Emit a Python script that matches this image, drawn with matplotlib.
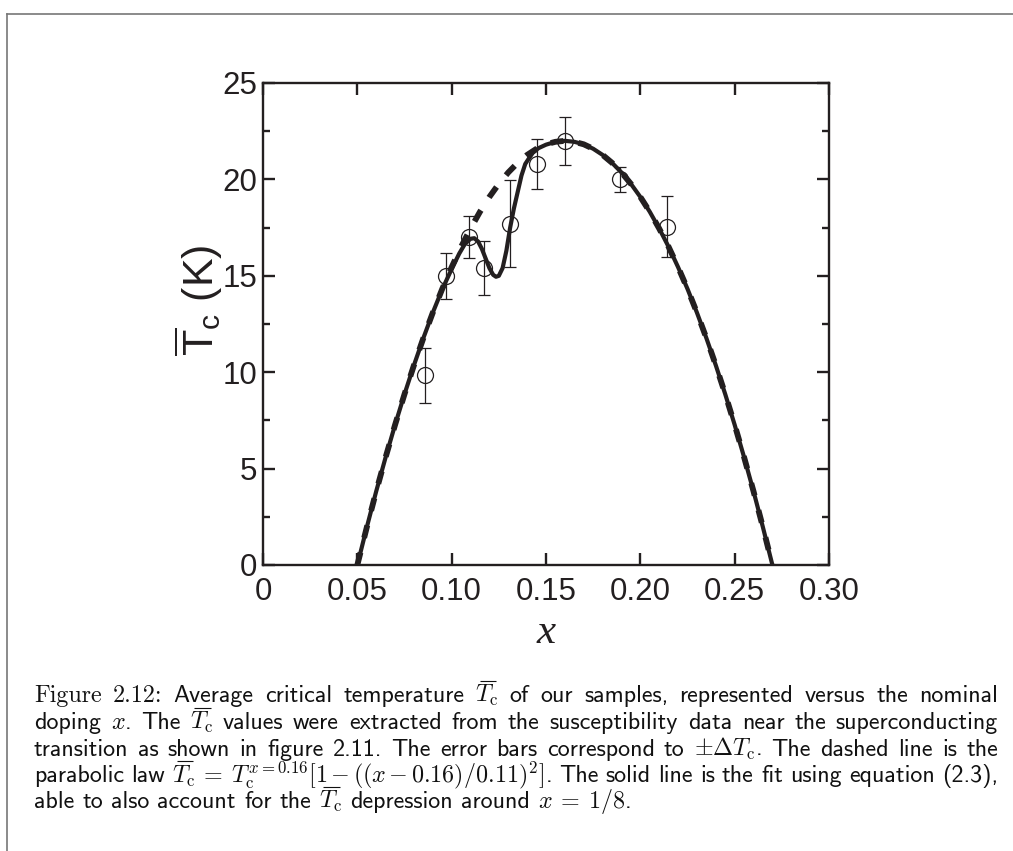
import matplotlib
matplotlib.use("Agg")
import matplotlib.pyplot as plt
from matplotlib.lines import Line2D
from matplotlib.ticker import MultipleLocator
from matplotlib.font_manager import FontProperties

plt.rcParams['font.family'] = ['Liberation Sans', 'DejaVu Sans']
plt.rcParams['mathtext.fontset'] = 'custom'
plt.rcParams['mathtext.rm'] = 'Liberation Sans'
plt.rcParams['mathtext.sf'] = 'Liberation Sans'
plt.rcParams['mathtext.it'] = 'Liberation Sans:italic'
plt.rcParams['mathtext.bf'] = 'Liberation Sans:bold'

# measured samples (Tc with +/- error)
x_data = [0.086, 0.097, 0.109, 0.117, 0.131, 0.145, 0.160, 0.189, 0.214]
tc_data = [9.85, 15.0, 17.0, 15.4, 17.7, 20.8, 22.0, 20.0, 17.55]
tc_err = [1.43, 1.2, 1.1, 1.4, 2.25, 1.3, 1.25, 0.65, 1.6]

# dashed parabolic law
x_para = [0.050, 0.055, 0.060, 0.065, 0.070, 0.075, 0.080, 0.085, 0.090, 0.095,
          0.100, 0.105, 0.110, 0.115, 0.120, 0.125, 0.130, 0.135, 0.140, 0.145,
          0.150, 0.155, 0.160, 0.165, 0.170, 0.175, 0.180, 0.185, 0.190, 0.195,
          0.200, 0.205, 0.210, 0.215, 0.220, 0.225, 0.230, 0.235, 0.240, 0.245,
          0.250, 0.255, 0.260, 0.265, 0.270]
tc_para = [0.0, 1.95, 3.82, 5.59, 7.27, 8.86, 10.36, 11.77, 13.09, 14.32,
           15.45, 16.5, 17.45, 18.32, 19.09, 19.77, 20.36, 20.86, 21.27, 21.59,
           21.82, 21.95, 22.0, 21.95, 21.82, 21.59, 21.27, 20.86, 20.36, 19.77,
           19.09, 18.32, 17.45, 16.5, 15.45, 14.32, 13.09, 11.77, 10.36, 8.86,
           7.27, 5.59, 3.82, 1.95, 0.0]

# solid fit (eq. 2.3) with the dip near x = 1/8
x_fit = [0.050, 0.055, 0.060, 0.065, 0.070, 0.075, 0.080, 0.085, 0.090, 0.095,
         0.100, 0.104, 0.107, 0.110, 0.112, 0.114, 0.116, 0.118, 0.120, 0.122,
         0.1235, 0.125, 0.127, 0.129, 0.131, 0.133, 0.135, 0.137, 0.139, 0.141,
         0.143, 0.146, 0.150, 0.155, 0.160, 0.165, 0.170, 0.175, 0.180, 0.185,
         0.190, 0.195, 0.200, 0.205, 0.210, 0.215, 0.220, 0.225, 0.230, 0.235,
         0.240, 0.245, 0.250, 0.255, 0.260, 0.265, 0.270]
tc_fit = [0.0, 1.95, 3.82, 5.59, 7.27, 8.86, 10.36, 11.77, 13.09, 14.30,
          15.35, 16.15, 16.65, 16.92, 16.95, 16.78, 16.4, 15.9, 15.4, 15.05,
          14.95, 15.0, 15.4, 16.3, 17.5, 18.5, 19.35, 20.2, 20.8, 21.1,
          21.38, 21.62, 21.8, 21.95, 22.0, 21.95, 21.82, 21.59, 21.27, 20.86,
          20.36, 19.77, 19.09, 18.32, 17.45, 16.5, 15.45, 14.32, 13.09, 11.77,
          10.36, 8.86, 7.27, 5.59, 3.82, 1.95, 0.0]

x_ticks = [0, 0.05, 0.10, 0.15, 0.20, 0.25, 0.30]
x_ticklabels = ['0', '0.05', '0.10', '0.15', '0.20', '0.25', '0.30']
y_ticks = [0, 5, 10, 15, 20, 25]

caption_lines = [
    ['Figure', '2.12:', 'Average', 'critical', 'temperature', r'$\overline{T}_\mathrm{c}$',
     'of', 'our', 'samples,', 'represented', 'versus', 'the', 'nominal'],
    ['doping', r'$x$.', 'The', r'$\overline{T}_\mathrm{c}$', 'values', 'were', 'extracted',
     'from', 'the', 'susceptibility', 'data', 'near', 'the', 'superconducting'],
    ['transition', 'as', 'shown', 'in', 'figure', '2.11.', 'The', 'error', 'bars',
     'correspond', 'to', r'$\pm\Delta T_\mathrm{c}$.', 'The', 'dashed', 'line', 'is', 'the'],
    ['parabolic', 'law',
     r'$\overline{T}_\mathrm{c}\:{=}\:T_\mathrm{c}^{x{=}0.16}[1\,{-}\,((x\,{-}\,0.16)/0.11)^2]$.',
     'The', 'solid', 'line', 'is', 'the', 'fit', 'using', 'equation', '(2.3),'],
    ['able', 'to', 'also', 'account', 'for', 'the', r'$\overline{T}_\mathrm{c}$',
     'depression', 'around', r'$x\:{=}\:1/8$.'],
]

ink = '#231f20'
W, H = 1013, 851
fig = plt.figure(figsize=(W / 100, H / 100), dpi=100)
ax = fig.add_axes([263 / W, 1 - 565 / H, 566 / W, 482 / H])

ax.plot(x_para, tc_para, color=ink, lw=4.2, ls=(0, (2.2, 2.6)), dash_capstyle='butt')
ax.plot(x_fit, tc_fit, color=ink, lw=3.0)
ax.errorbar(x_data, tc_data, yerr=tc_err, fmt='o', ms=11.5, mfc='none', mec=ink,
            mew=0.9, ecolor=ink, elinewidth=0.9, capsize=4.3, capthick=0.9)

ax.set_xlim(0, 0.30)
ax.set_ylim(0, 25)
ax.set_xticks(x_ticks)
ax.set_xticklabels(x_ticklabels)
ax.set_yticks(y_ticks)
ax.yaxis.set_minor_locator(MultipleLocator(2.5))
ax.tick_params(which='both', direction='in', top=True, right=True, width=1.7,
               color=ink, labelcolor=ink, labelsize=22.5)
ax.tick_params(which='major', length=8.5)
ax.tick_params(which='minor', length=4.8)
ax.tick_params(axis='x', pad=9)
ax.tick_params(axis='y', pad=4)
for s in ax.spines.values():
    s.set_linewidth(1.7)
    s.set_color(ink)

ax.set_ylabel(r'$\overline{\mathrm{T}}_\mathrm{c}$ (K)', fontsize=31, color=ink,
              math_fontfamily='custom')
ax.yaxis.set_label_coords(-0.068, 0.55)
fig.text(546 / W, 1 - 633 / H, 'x', ha='center', va='center', color=ink,
         family='Liberation Serif', style='italic', fontsize=31)

# page frame
fig.add_artist(Line2D([7 / W, 1], [1 - 14 / H] * 2, transform=fig.transFigure,
                      color='#777777', lw=1.2))
fig.add_artist(Line2D([7 / W] * 2, [0, 1 - 14 / H], transform=fig.transFigure,
                      color='#777777', lw=1.2))

# caption, justified like the LaTeX page
renderer = fig.canvas.get_renderer()
left_px, right_px = 34, 998
baselines = [702, 729, 756, 782, 808]


def token_props(tok, size):
    fam = 'cmr10' if tok in ('Figure', '2.12:') else 'cmss10'
    return FontProperties(family=fam, size=size, math_fontfamily='cm')


def token_width(tok, size):
    w, h, d = renderer.get_text_width_height_descent(tok, token_props(tok, size),
                                                     ismath=('$' in tok))
    return w


# size chosen so that "superconducting" is as wide as on the page (~162 px)
size = 14 * 162 / token_width('superconducting', 14)
em = size * 100 / 72
t_w = token_width('$T$', size)

for i, tokens in enumerate(caption_lines):
    # mathtext puts \overline too high, so the bar over T is drawn by hand
    has_bar = [r'\overline{T}' in t for t in tokens]
    tokens = [t.replace(r'\overline{T}', 'T') for t in tokens]
    wid = [token_width(t, size) for t in tokens]
    if i < len(caption_lines) - 1:
        gap = (right_px - left_px - sum(wid)) / (len(wid) - 1)
    else:
        gap = size * 0.333 * 100 / 72
    xp = left_px
    yb = baselines[i]
    for tok, w, bar in zip(tokens, wid, has_bar):
        fig.text(xp / W, 1 - yb / H, tok, fontproperties=token_props(tok, size),
                 va='baseline', ha='left', color='#111111')
        if bar:
            y_bar = yb - 0.87 * em
            fig.add_artist(Line2D([(xp + 0.22 * t_w) / W, (xp + 1.08 * t_w) / W],
                                  [1 - y_bar / H] * 2, transform=fig.transFigure,
                                  color='#111111', lw=0.8, solid_capstyle='butt'))
        xp += w + gap

fig.savefig('out.png', dpi=100)
